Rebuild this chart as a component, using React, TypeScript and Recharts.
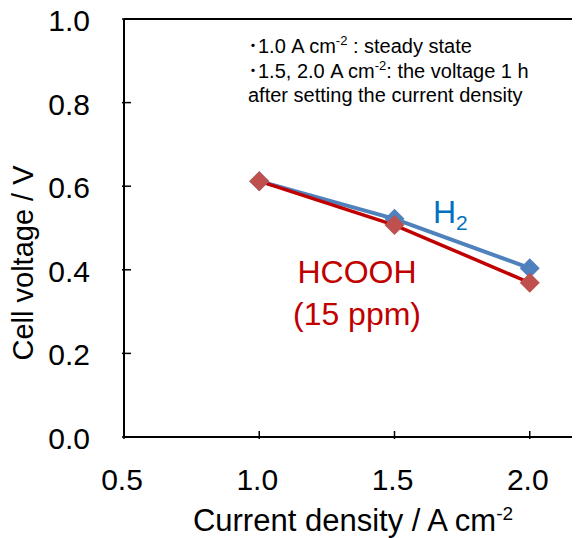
import React from "react";
import { LineChart, Line, XAxis, YAxis, ReferenceLine } from "recharts";

const currentDensity = [1.0, 1.5, 2.0];
const h2Voltage = [0.612, 0.522, 0.404];
const hcoohVoltage = [0.612, 0.507, 0.369];
const xTicks = [0.5, 1.0, 1.5, 2.0];
const yTicks = [0, 0.2, 0.4, 0.6, 0.8, 1.0];

const data = currentDensity.map((x, i) => ({ x, h2: h2Voltage[i], hcooh: hcoohVoltage[i] }));

const FONT = '"Liberation Sans", Arial, "Noto Sans CJK JP", sans-serif';

const makeDiamond = (fill: string) => (props: any) => {
  const { cx, cy, index } = props;
  const r = 10;
  return (
    <polygon
      key={`d-${fill}-${index}`}
      points={`${cx},${cy - r} ${cx + r},${cy} ${cx},${cy + r} ${cx - r},${cy}`}
      fill={fill}
    />
  );
};

const YTick = (props: any) => {
  const { x, y, payload } = props;
  return (
    <g>
      <line x1={x} y1={y} x2={x + 9} y2={y} stroke="#000" strokeWidth={1.5} />
      <text x={x - 32} y={y + 12} textAnchor="end" fontSize={30} fontFamily={FONT} fill="#000">
        {Number(payload.value).toFixed(1)}
      </text>
    </g>
  );
};

const XTick = (props: any) => {
  const { x, y, payload } = props;
  return (
    <g>
      <line x1={x} y1={y} x2={x} y2={y - 8} stroke="#000" strokeWidth={1.5} />
      <text x={x - 2} y={y + 51} textAnchor="middle" fontSize={30} fontFamily={FONT} fill="#000">
        {Number(payload.value).toFixed(1)}
      </text>
    </g>
  );
};

export default function App() {
  return (
    <div
      style={{
        position: "relative",
        width: 580,
        height: 538,
        overflow: "hidden",
        background: "#fff",
        margin: "-8px 0 0 -8px",
      }}
    >
      <LineChart width={708} height={538} data={data} margin={{ top: 19, right: 43, left: 8, bottom: 0 }}>
        <XAxis
          dataKey="x"
          type="number"
          domain={[0.5, 2.5]}
          ticks={xTicks}
          height={101}
          tickSize={0}
          tickLine={false}
          tick={<XTick />}
          axisLine={{ stroke: "#000", strokeWidth: 2 }}
          interval={0}
        />
        <YAxis
          type="number"
          domain={[0, 1]}
          ticks={yTicks}
          width={116}
          tickSize={0}
          tickLine={false}
          tick={<YTick />}
          axisLine={{ stroke: "#000", strokeWidth: 2 }}
          interval={0}
        />
        <ReferenceLine y={1} stroke="#000" strokeWidth={2} />
        <Line
          dataKey="h2"
          stroke="#4F81BD"
          strokeWidth={4}
          dot={makeDiamond("#4F81BD")}
          activeDot={false}
          isAnimationActive={false}
        />
        <Line
          dataKey="hcooh"
          stroke="#C00000"
          strokeWidth={3.5}
          dot={makeDiamond("#C0504D")}
          activeDot={false}
          isAnimationActive={false}
        />
      </LineChart>
      <svg
        width={580}
        height={538}
        style={{ position: "absolute", left: 0, top: 0, pointerEvents: "none" }}
        fontFamily={FONT}
      >
        <text x={248} y={53} fontSize={20} fill="#000">
          ･1.0 A cm<tspan fontSize={13} dy={-8}>-2</tspan>
          <tspan dy={8}> : steady state</tspan>
        </text>
        <text x={248} y={78} fontSize={20} fill="#000">
          ･1.5, 2.0 A cm<tspan fontSize={13} dy={-8}>-2</tspan>
          <tspan dy={8}>:  the voltage 1 h</tspan>
        </text>
        <text x={248} y={102} fontSize={20} fill="#000">
          after setting the current density
        </text>
        <text x={433} y={223} fontSize={32} fill="#0070C0">
          H<tspan fontSize={21} dy={7}>2</tspan>
        </text>
        <text x={357} y={283} fontSize={32} fill="#C00000" textAnchor="middle">
          HCOOH
        </text>
        <text x={357} y={325} fontSize={32} fill="#C00000" textAnchor="middle">
          (15 ppm)
        </text>
        <text
          x={33}
          y={263}
          fontSize={29}
          fill="#000"
          textAnchor="middle"
          transform="rotate(-90 33 263)"
        >
          Cell voltage / V
        </text>
        <text x={353} y={531} fontSize={31} fill="#000" textAnchor="middle">
          Current density / A cm<tspan fontSize={19} dy={-11}>-2</tspan>
        </text>
      </svg>
    </div>
  );
}
